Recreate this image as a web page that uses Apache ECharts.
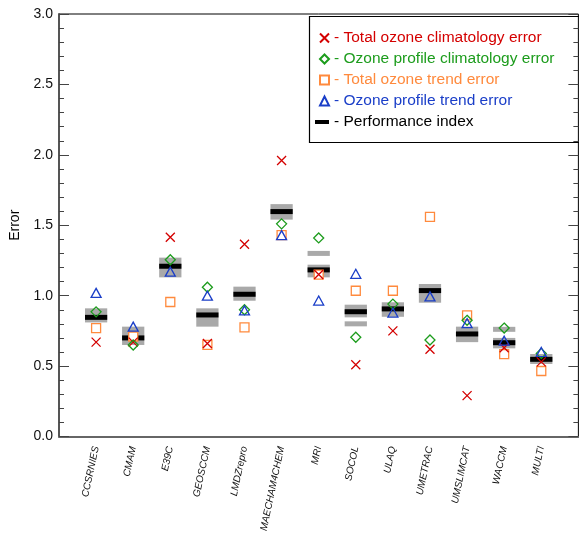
<!DOCTYPE html>
<html><head><meta charset="utf-8">
<script src="https://cdn.jsdelivr.net/npm/echarts@6/dist/echarts.min.js"></script>
<style>html,body{margin:0;padding:0;background:#fff}#c{width:579px;height:537px}</style>
</head><body><div id="c"></div>
<script>
var models = ['CCSRNIES','CMAM','E39C','GEOSCCM','LMDZrepro','MAECHAM4CHEM','MRI','SOCOL','ULAQ','UMETRAC','UMSLIMCAT','WACCM','MULTI'];
var totalClim    = [0.67, 0.67, 1.415, 0.66, 1.365, 1.96, 1.15, 0.51, 0.75, 0.62, 0.29, 0.63, 0.53];
var profileClim  = [0.885, 0.65, 1.255, 1.06, 0.90, 1.51, 1.41, 0.705, 0.94, 0.685, 0.825, 0.77, 0.59];
var totalTrend   = [0.77, 0.71, 0.955, 0.65, 0.775, 1.43, 1.15, 1.035, 1.035, 1.56, 0.86, 0.585, 0.465];
var profileTrend = [1.02, 0.78, 1.17, 1.00, 0.895, 1.43, 0.965, 1.155, 0.88, 0.995, 0.805, 0.68, 0.60];
var perfIndex    = [0.846, 0.70, 1.209, 0.863, 1.01, 1.597, 1.183, 0.886, 0.906, 1.036, 0.728, 0.666, 0.548];
var grayLow      = [0.81, 0.65, 1.13, 0.78, 0.964, 1.54, 1.13, 0.846, 0.85, 0.95, 0.67, 0.626, 0.515];
var grayHigh     = [0.91, 0.78, 1.27, 0.91, 1.064, 1.65, 1.22, 0.936, 0.953, 1.083, 0.78, 0.70, 0.586];
var grayExtra    = [null, null, null, null, null, null, 1.30, 0.80, null, null, null, 0.761, null];
var yTicks = ['0.0','0.5','1.0','1.5','2.0','2.5','3.0'];

var FONT = 'Liberation Sans, Arial, Helvetica, sans-serif';
var RED = '#d40000', GREEN = '#1c9c1c', ORANGE = '#ff8a3d', BLUE = '#1a3ec8', GRAY = '#a9a9a9';

function pts(arr){ return arr.map(function(v,i){ return [i+1, v]; }); }

function grayItem(params, api){
  var x = api.value(0);
  var p1 = api.coord([x, api.value(1)]);
  var p2 = api.coord([x, api.value(2)]);
  var hw = api.size([1,0])[0]*0.3;
  return {type:'rect', shape:{x:p1[0]-hw, y:p2[1], width:hw*2, height:p1[1]-p2[1]}, style:{fill:GRAY}};
}
function barItem(color, h){
  return function(params, api){
    var x = api.value(0);
    var p = api.coord([x, api.value(1)]);
    var hw = api.size([1,0])[0]*0.3;
    return {type:'rect', shape:{x:p[0]-hw, y:p[1]-h/2, width:hw*2, height:h}, style:{fill:color}};
  };
}

var chart = echarts.init(document.getElementById('c'), null, {renderer:'canvas'});
var crossPath = 'path://M0,0L10,10M10,0L0,10';
chart.setOption({
  animation:false,
  textStyle:{fontFamily:FONT},
  grid:{left:59, right:-1, top:14, bottom:100.5, show:true, borderColor:'#000', borderWidth:1, backgroundColor:'transparent', containLabel:false},
  xAxis:{type:'value', min:0, max:14, interval:1,
    axisLine:{show:true, lineStyle:{color:'#666', width:2}},
    axisTick:{show:false}, splitLine:{show:false},
    axisLabel:{rotate:78, margin:10, fontSize:10, fontStyle:'italic', color:'#111', fontFamily:FONT,
      formatter:function(v){ return models[v-1] || ''; }}
  },
  yAxis:[
    {type:'value', min:0, max:3, interval:0.5, name:'Error', nameLocation:'middle', nameGap:30,
      nameTextStyle:{fontSize:14, color:'#000', fontFamily:FONT},
      axisLine:{show:true, lineStyle:{color:'#555', width:2}},
      axisTick:{show:true, inside:true, length:10, lineStyle:{color:'#444', width:1}},
      minorTick:{show:true, splitNumber:5, length:5, lineStyle:{color:'#444', width:1}},
      splitLine:{show:false},
      axisLabel:{fontSize:14, color:'#111', margin:6, fontFamily:FONT,
        formatter:function(v){ return yTicks[Math.round(v*2)]; }}
    },
    {type:'value', min:0, max:3, interval:0.5, position:'right',
      axisLine:{show:false},
      axisTick:{show:true, inside:true, length:10, lineStyle:{color:'#444', width:1}},
      minorTick:{show:true, splitNumber:5, length:5, lineStyle:{color:'#444', width:1}},
      splitLine:{show:false}, axisLabel:{show:false}
    }
  ],
  graphic:[{type:'rect', left:307, top:14, z:100, shape:{width:290, height:126},
    style:{fill:'none', stroke:'#000', lineWidth:1.2}}],
  legend:[
    {orient:'vertical', left:314, top:25, itemGap:5, itemWidth:9, itemHeight:9, selectedMode:false,
      textStyle:{fontSize:15.5, fontFamily:FONT},
      data:[
        {name:'- Total ozone climatology error', textStyle:{color:RED}},
        {name:'- Ozone profile climatology error', textStyle:{color:GREEN}},
        {name:'- Total ozone trend error', textStyle:{color:ORANGE}},
        {name:'- Ozone profile trend error', textStyle:{color:BLUE}}
      ]},
    {orient:'vertical', left:310, top:109, itemWidth:14, itemHeight:4, selectedMode:false,
      textStyle:{fontSize:15.5, fontFamily:FONT, color:'#000'},
      data:[{name:'- Performance index', icon:'rect'}]}
  ],
  series:[
    {type:'custom', name:'gray', renderItem:grayItem, silent:true,
      data:models.map(function(m,i){ return [i+1, grayLow[i], grayHigh[i]]; })},
    {type:'custom', name:'grayExtra', renderItem:barItem(GRAY, 5), silent:true,
      data:grayExtra.map(function(v,i){ return v==null ? null : [i+1, v]; }).filter(function(d){return d;})},
    {type:'scatter', name:'- Total ozone trend error', symbol:'rect', symbolSize:9,
      itemStyle:{color:'#fff', opacity:1, borderColor:ORANGE, borderWidth:1.3}, data:pts(totalTrend)},
    {type:'custom', name:'- Performance index', renderItem:barItem('#000', 5), itemStyle:{color:'#000'},
      data:pts(perfIndex)},
    {type:'scatter', name:'- Total ozone climatology error', symbol:crossPath, symbolSize:9,
      itemStyle:{color:'transparent', opacity:1, borderColor:RED, borderWidth:1.3}, data:pts(totalClim)},
    {type:'scatter', name:'- Ozone profile climatology error', symbol:'diamond', symbolSize:[10,10],
      itemStyle:{color:'transparent', opacity:1, borderColor:GREEN, borderWidth:1.3}, data:pts(profileClim)},
    {type:'scatter', name:'- Ozone profile trend error', symbol:'triangle', symbolSize:[10,9],
      itemStyle:{color:'transparent', opacity:1, borderColor:BLUE, borderWidth:1.3}, data:pts(profileTrend)}
  ]
});
</script>
</body></html>
